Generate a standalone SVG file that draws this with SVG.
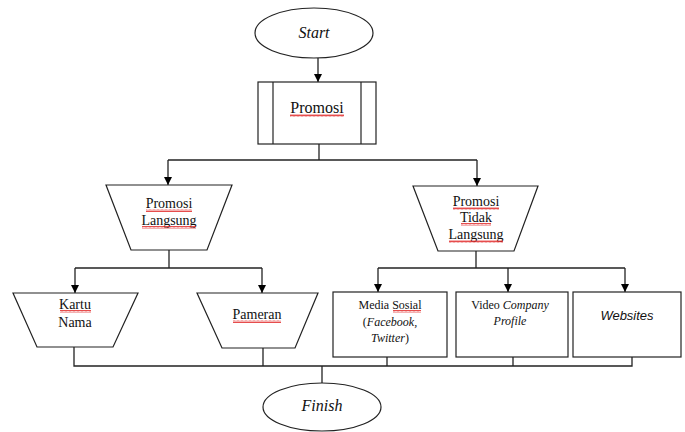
<svg xmlns="http://www.w3.org/2000/svg" width="685" height="432" viewBox="0 0 685 432">
<defs>
<marker id="arr" viewBox="0 0 10 10" refX="10" refY="5" markerWidth="8" markerHeight="8" markerUnits="userSpaceOnUse" orient="auto">
<path d="M0,0 L10,5 L0,10 Z" fill="#000"/>
</marker>
<pattern id="sq" x="0" y="0" width="4" height="3" patternUnits="userSpaceOnUse">
<path d="M0,2.5 L1,0.5 L2,2.5 L3,0.5 L4,2.5" fill="none" stroke="#e02020" stroke-width="0.8"/>
</pattern>
<style>
.shape{fill:#fff;stroke:#222;stroke-width:1.2}
.con{fill:none;stroke:#222;stroke-width:1.3}
.t{font-family:"Liberation Serif","Times New Roman",serif;font-size:14px;fill:#111;text-anchor:middle}
.s12{font-size:12px}
.s16{font-size:16px}
.it{font-style:italic}
.sans{font-family:"Liberation Sans",Arial,sans-serif;font-size:13px;font-style:italic;fill:#111;text-anchor:middle}
.sqg{fill:url(#sq)}
</style>
</defs>
<g id="connectors">
<line class="con" x1="318" y1="58" x2="318" y2="82" marker-end="url(#arr)"/>
<polyline class="con" points="319,144 319,160"/>
<polyline class="con" points="168,160 477,160"/>
<line class="con" x1="168" y1="160" x2="168" y2="185" marker-end="url(#arr)"/>
<line class="con" x1="477" y1="160" x2="477" y2="186" marker-end="url(#arr)"/>
<polyline class="con" points="169,250 169,268"/>
<polyline class="con" points="75,268 262,268"/>
<line class="con" x1="75" y1="268" x2="75" y2="293" marker-end="url(#arr)"/>
<line class="con" x1="262" y1="268" x2="262" y2="293" marker-end="url(#arr)"/>
<polyline class="con" points="476,251 476,268"/>
<polyline class="con" points="378,268 625,268"/>
<line class="con" x1="378" y1="268" x2="378" y2="292" marker-end="url(#arr)"/>
<line class="con" x1="508" y1="268" x2="508" y2="292" marker-end="url(#arr)"/>
<line class="con" x1="625" y1="268" x2="625" y2="292" marker-end="url(#arr)"/>
<polyline class="con" points="74,347 74,366 632,366 632,357"/>
<line class="con" x1="263" y1="348" x2="263" y2="366"/>
<line class="con" x1="387" y1="357" x2="387" y2="366"/>
<line class="con" x1="513" y1="357" x2="513" y2="366"/>
<line class="con" x1="322" y1="366" x2="322" y2="383"/>
</g>
<g id="start">
<ellipse class="shape" cx="314" cy="33" rx="59" ry="25"/>
<text class="t s16 it" x="314" y="38">Start</text>
</g>
<g id="promosi">
<rect class="shape" x="258" y="82" width="118" height="62"/>
<line class="shape" x1="273" y1="82" x2="273" y2="144"/>
<line class="shape" x1="361" y1="82" x2="361" y2="144"/>
<text class="t s16" x="317" y="113">Promosi</text>
<rect class="sqg" x="290" y="114" width="54" height="3"/>
</g>
<g id="promosi-langsung">
<polygon class="shape" points="106,185 232,185 207,250 131,250"/>
<text class="t" x="169" y="208">Promosi</text>
<rect class="sqg" x="146" y="209" width="46" height="3"/>
<text class="t" x="169" y="225">Langsung</text>
<rect class="sqg" x="142" y="226" width="54" height="3"/>
</g>
<g id="promosi-tidak-langsung">
<polygon class="shape" points="413,186 538,186 514,251 438,251"/>
<text class="t" x="476" y="206">Promosi</text>
<rect class="sqg" x="453" y="207" width="46" height="3"/>
<text class="t" x="476" y="222">Tidak</text>
<rect class="sqg" x="461" y="223" width="30" height="3"/>
<text class="t" x="476" y="239">Langsung</text>
<rect class="sqg" x="449" y="240" width="54" height="3"/>
</g>
<g id="kartu-nama">
<polygon class="shape" points="13,293 138,293 113,347 37,347"/>
<text class="t" x="75" y="309">Kartu</text>
<rect class="sqg" x="60" y="310" width="31" height="3"/>
<text class="t" x="75" y="327">Nama</text>
</g>
<g id="pameran">
<polygon class="shape" points="197,293 318,293 295,348 222,348"/>
<text class="t" x="257" y="319">Pameran</text>
<rect class="sqg" x="233" y="320" width="48" height="3"/>
</g>
<g id="media-sosial">
<rect class="shape" x="333" y="292" width="114" height="65"/>
<text class="t s12" x="390" y="309">Media Sosial</text>
<rect class="sqg" x="393" y="310" width="28" height="3"/>
<text class="t s12" x="390" y="326">(<tspan class="it">Facebook,</tspan></text>
<text class="t s12" x="390" y="342"><tspan class="it">Twitter</tspan>)</text>
</g>
<g id="video-company-profile">
<rect class="shape" x="456" y="292" width="112" height="65"/>
<text class="t s12" x="510" y="309">Video <tspan class="it">Company</tspan></text>
<text class="t s12 it" x="510" y="325">Profile</text>
</g>
<g id="websites">
<rect class="shape" x="573" y="292" width="108" height="65"/>
<text class="sans" x="627" y="320">Websites</text>
</g>
<g id="finish">
<ellipse class="shape" cx="322" cy="407" rx="59" ry="24"/>
<text class="t s16 it" x="322" y="411">Finish</text>
</g>
</svg>
